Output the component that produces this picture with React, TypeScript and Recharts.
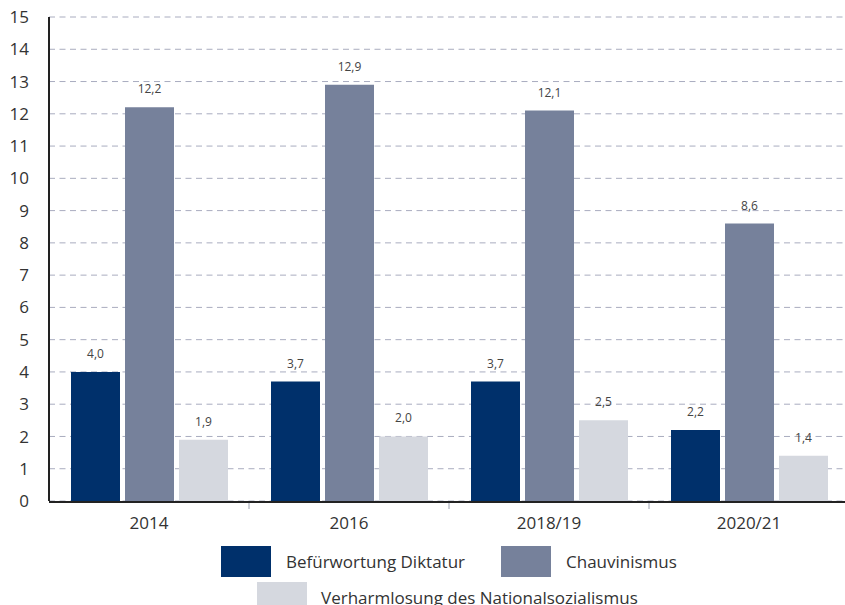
import React from "react";
import { BarChart, Bar, XAxis, YAxis, CartesianGrid, LabelList } from "recharts";

const categories = ["2014", "2016", "2018/19", "2020/21"];
const diktatur = [4.0, 3.7, 3.7, 2.2];
const chauvinismus = [12.2, 12.9, 12.1, 8.6];
const verharmlosung = [1.9, 2.0, 2.5, 1.4];
const yTicks = [0, 1, 2, 3, 4, 5, 6, 7, 8, 9, 10, 11, 12, 13, 14, 15];
const boundaryTicks = [1, 2, 3];

const seriesNames = ["Befürwortung Diktatur", "Chauvinismus", "Verharmlosung des Nationalsozialismus"];
const colors = ["#00306b", "#76819b", "#d5d8df"];

const data = categories.map((c, i) => ({
  name: c,
  idx: i + 0.5,
  a: diktatur[i],
  b: chauvinismus[i],
  c: verharmlosung[i],
}));

const FONT = "'Open Sans', 'Noto Sans', sans-serif";
const fmt = (v: any) => Number(v).toFixed(1).replace(".", ",");

export default function App() {
  return (
    <div style={{ position: "absolute", left: 0, top: 0, width: 849, height: 605, background: "#fff", fontFamily: FONT, overflow: "hidden" }}>
      <BarChart
        width={849}
        height={540}
        data={data}
        margin={{ top: 17, right: 0, left: 0, bottom: 0 }}
        barCategoryGap="11%"
        barGap={5}
      >
        <CartesianGrid vertical={false} stroke="#a9acbf" strokeDasharray="6 4.5" strokeWidth={1} />
        <XAxis
          xAxisId="bnd"
          type="number"
          dataKey="idx"
          domain={[0, 4]}
          ticks={boundaryTicks}
          interval={0}
          axisLine={false}
          tick={() => <g />}
          tickLine={{ stroke: "#9aa0b0", strokeWidth: 1 }}
          tickSize={8}
          height={1}
        />
        <XAxis
          dataKey="name"
          xAxisId="cat"
          height={38}
          tickLine={false}
          axisLine={{ stroke: "#222", strokeWidth: 2 }}
          tick={{ fontSize: 17, fill: "#333", fontFamily: FONT }}
          tickMargin={9}
          interval={0}
        />
        <YAxis
          domain={[0, 15]}
          ticks={yTicks}
          interval={0}
          width={49}
          tickLine={false}
          tickSize={0}
          tickMargin={20}
          axisLine={{ stroke: "#222", strokeWidth: 2 }}
          tick={{ fontSize: 17, fill: "#333", fontFamily: FONT }}
        />
        <Bar dataKey="a" xAxisId="cat" fill={colors[0]} isAnimationActive={false}>
          <LabelList dataKey="a" position="top" offset={14} formatter={fmt} style={{ fontSize: 12, fill: "#444", fontFamily: FONT }} />
        </Bar>
        <Bar dataKey="b" xAxisId="cat" fill={colors[1]} isAnimationActive={false}>
          <LabelList dataKey="b" position="top" offset={14} formatter={fmt} style={{ fontSize: 12, fill: "#444", fontFamily: FONT }} />
        </Bar>
        <Bar dataKey="c" xAxisId="cat" fill={colors[2]} isAnimationActive={false}>
          <LabelList dataKey="c" position="top" offset={14} formatter={fmt} style={{ fontSize: 12, fill: "#444", fontFamily: FONT }} />
        </Bar>
      </BarChart>
      <div style={{ position: "absolute", top: 546, left: 221, display: "flex", alignItems: "center", fontSize: 17, color: "#333" }}>
        <div style={{ width: 50, height: 31, background: colors[0] }} />
        <span style={{ marginLeft: 15, width: 215 }}>{seriesNames[0]}</span>
        <div style={{ width: 50, height: 31, background: colors[1] }} />
        <span style={{ marginLeft: 15 }}>{seriesNames[1]}</span>
      </div>
      <div style={{ position: "absolute", top: 582, left: 257, display: "flex", alignItems: "center", fontSize: 17, color: "#333" }}>
        <div style={{ width: 50, height: 31, background: colors[2] }} />
        <span style={{ marginLeft: 14 }}>{seriesNames[2]}</span>
      </div>
    </div>
  );
}
